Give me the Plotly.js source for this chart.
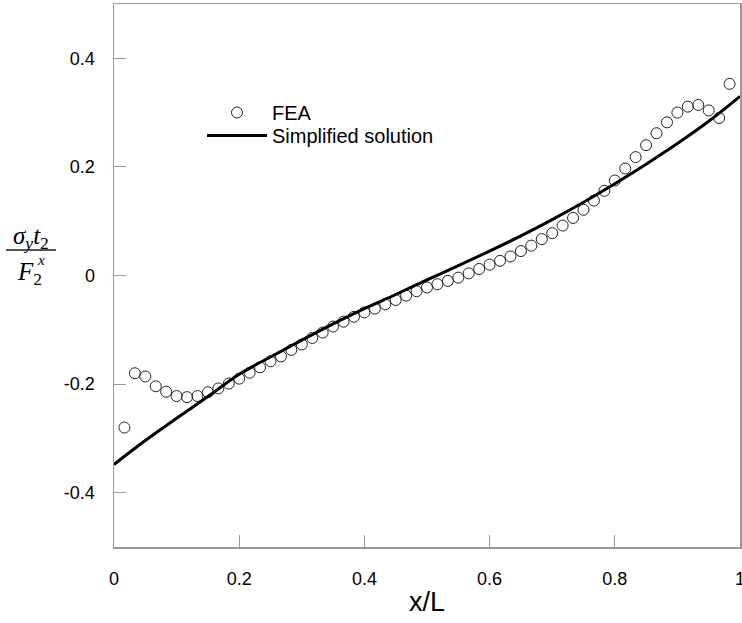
<!DOCTYPE html>
<html>
<head>
<meta charset="utf-8">
<script src="https://cdn.plot.ly/plotly-3.0.1.min.js"></script>
<style>html,body{margin:0;padding:0;background:#fff}#chart{width:742px;height:623px}</style>
</head>
<body>
<div id="chart"></div>
<script>
// FEA points at x = i/60, i = 1..59
const feaX = [1,2,3,4,5,6,7,8,9,10,11,12,13,14,15,16,17,18,19,20,21,22,23,24,25,26,27,28,29,30,31,32,33,34,35,36,37,38,39,40,41,42,43,44,45,46,47,48,49,50,51,52,53,54,55,56,57,58,59].map(i => i / 60);
const feaY = [-0.280,-0.180,-0.186,-0.204,-0.214,-0.222,-0.224,-0.222,-0.215,-0.208,
              -0.199,-0.190,-0.179,-0.169,-0.158,-0.149,-0.137,-0.127,-0.115,-0.105,
              -0.094,-0.085,-0.076,-0.068,-0.061,-0.053,-0.045,-0.037,-0.029,-0.022,
              -0.016,-0.010,-0.004,0.004,0.012,0.020,0.027,0.035,0.045,0.055,
              0.067,0.078,0.092,0.106,0.121,0.138,0.156,0.175,0.197,0.218,
              0.240,0.262,0.282,0.300,0.311,0.314,0.304,0.290,0.353];
// Simplified solution
const simX = [0,0.05,0.1,0.15,0.2,0.25,0.3,0.35,0.4,0.45,0.5,0.55,0.6,0.65,0.7,0.75,0.8,0.85,0.9,0.95,1.0];
const simY = [-0.348,-0.304,-0.263,-0.223,-0.182,-0.150,-0.119,-0.089,-0.061,-0.035,-0.008,0.018,0.045,0.073,0.103,0.135,0.169,0.205,0.243,0.284,0.330];
const xTicks = [0,0.2,0.4,0.6,0.8,1];
const xTickText = ['0','0.2','0.4','0.6','0.8','1'];
const yTicks = [-0.4,-0.2,0,0.2,0.4];
const yTickText = ['-0.4','-0.2','0','0.2','0.4'];

const W = 742, ML = 114, MR = 2, MT = 4, MB = 76, H = 623;
const PW = W - ML - MR, PH = H - MT - MB;
const px = v => (v - ML) / PW;
const py = v => (H - MB - v) / PH;

const traces = [
  {x: feaX, y: feaY, name: 'FEA', type: 'scatter', mode: 'markers', legend: 'legend',
   marker: {symbol: 'circle-open', size: 11, color: '#222', line: {width: 1, color: '#222'}}},
  {x: simX, y: simY, name: 'Simplified solution', type: 'scatter', mode: 'lines', legend: 'legend2',
   line: {color: '#000', width: 3, shape: 'spline'}}
];

const sans = 'Liberation Sans, Arial, sans-serif';
const serif = 'Liberation Serif, Times New Roman, serif';
const axisCommon = {
  showgrid: false, zeroline: false, showline: true, linecolor: '#999', linewidth: 1.5,
  mirror: true, ticks: 'inside', ticklen: 12, tickcolor: '#999', tickwidth: 1,
  ticklabeloverflow: 'allow',
  tickfont: {family: sans, size: 18, color: '#000'}
};
const legendCommon = {xanchor: 'left', yanchor: 'top', bgcolor: 'rgba(0,0,0,0)',
  font: {family: sans, size: 20, color: '#000'}, itemwidth: 60};

const layout = {
  width: W, height: H,
  margin: {l: ML, r: MR, t: MT, b: MB},
  paper_bgcolor: '#fff', plot_bgcolor: '#fff',
  showlegend: true,
  legend: Object.assign({}, legendCommon, {x: px(202), y: py(93)}),
  legend2: Object.assign({}, legendCommon, {x: px(202), y: py(116)}),
  xaxis: Object.assign({}, axisCommon, {range: [0, 1], tickvals: xTicks, ticktext: xTickText,
    ticklabelstandoff: 15,
    title: {text: 'x/L', font: {family: sans, size: 27, color: '#000'}, standoff: 4}}),
  yaxis: Object.assign({}, axisCommon, {range: [-0.5, 0.5], tickvals: yTicks, ticktext: yTickText,
    ticklabelstandoff: 14}),
  shapes: [
    {type: 'line', xref: 'paper', yref: 'paper', x0: px(6), x1: px(56), y0: py(250), y1: py(250),
     line: {color: '#555', width: 2}}
  ],
  annotations: [
    {xref: 'paper', yref: 'paper', x: px(31), y: py(237), xanchor: 'center', yanchor: 'middle', showarrow: false,
     text: '<i>σ</i><sub><i>y</i></sub><i>t</i><sub>2</sub>', font: {family: serif, size: 25, color: '#000'}},
    {xref: 'paper', yref: 'paper', x: px(15), y: py(273), xanchor: 'left', yanchor: 'middle', showarrow: false,
     text: '<i>F</i><sub>2</sub>', font: {family: serif, size: 25, color: '#000'}},
    {xref: 'paper', yref: 'paper', x: px(35), y: py(260), xanchor: 'left', yanchor: 'middle', showarrow: false,
     text: '<i>x</i>', font: {family: serif, size: 15, color: '#000'}}
  ]
};

Plotly.newPlot('chart', traces, layout, {displayModeBar: false, staticPlot: true});
</script>
</body>
</html>
